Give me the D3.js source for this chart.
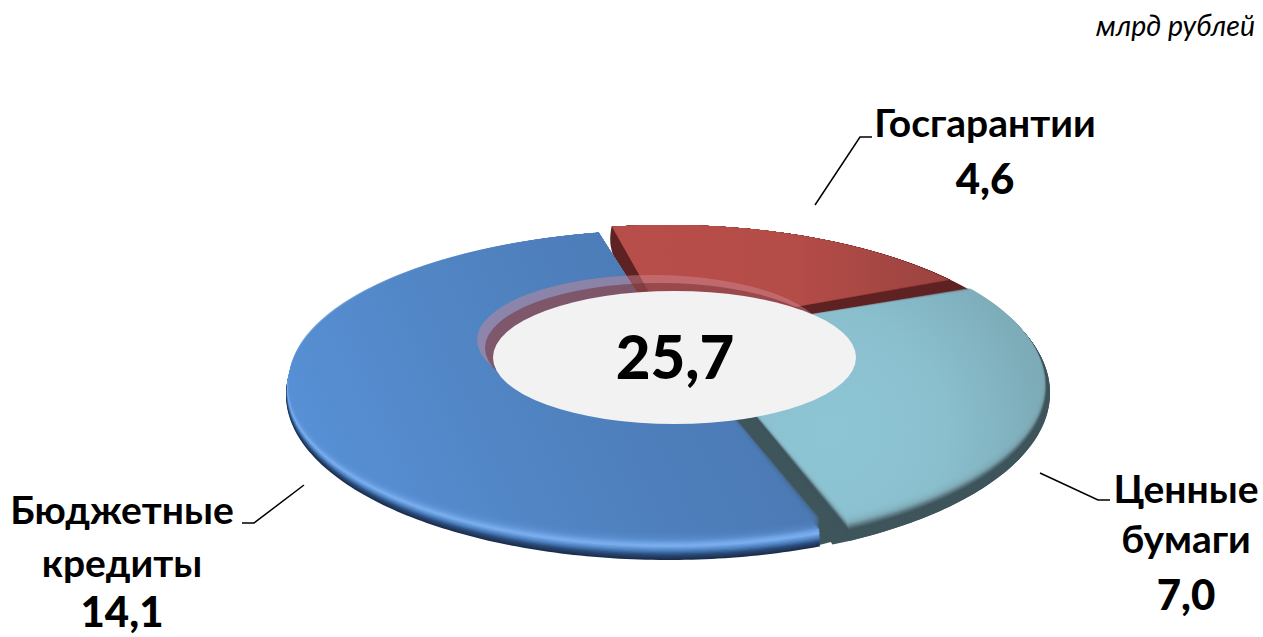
<!DOCTYPE html>
<html lang="ru">
<head>
<meta charset="utf-8">
<title>Госдолг</title>
<script src="https://cdn.jsdelivr.net/npm/d3@7"></script>
<style>
  html, body { margin: 0; padding: 0; background: #fff; }
  svg { display: block; }
  text { font-family: Lato, "Open Sans", "Noto Sans", sans-serif; fill: #000; }
</style>
</head>
<body>
<svg id="chart" width="1263" height="637"></svg>
<script>
// data
const categories = ['Госгарантии', 'Ценные бумаги', 'Бюджетные кредиты'];
const values = [4.6, 7.0, 14.1];
const unitLabel = 'млрд рублей';

const svg = d3.select('#chart');
const rad = d => d * Math.PI / 180;
const fmt = v => v.toFixed(1).replace('.', ',');

const outer = { cx: 668, cy: 393, rx: 382, ry: 168 };
const hole = { cx: 674.5, cy: 357.5, rx: 181.5, ry: 66.5 };
const rimLayers = 24;

// look of each slice, same order as categories
const looks = [
  { rim: ['#5e2222', '#7a302d', '#a3443f'], wall: '#5e2222', apex: [670, 329], trim: [0.5, 7.5], rise: 5, pull: 10,
    ellipse: outer,
    face: { type: 'linear', x1: 620, y1: 0, x2: 980, y2: 0, stops: ['#b94f4b', '#b54d49', '#96423f'] } },
  { rim: ['#3f555c', '#3f555c', '#3f555c', '#3f555c', '#5d7d87', '#7fa9b4'], wall: '#3f555c', apex: [688, 334], trim: [-1.5, 2], rise: 15, pull: 9,
    ellipse: outer,
    face: { type: 'radial', cx: 830, cy: 430, r: 235, stops: ['#8fc7d6', '#8bc0cf', '#7ba8b4'] } },
  { rim: ['#1b2e4d', '#2a4a78', '#4f85c6', '#7fb0ee', '#6299de'], wall: '#1b2e4d', apex: [658, 326], trim: [3, 1.5], rise: 15, pull: 3,
    ellipse: { cx: 668, cy: 395, rx: 382, ry: 165 },
    face: { type: 'linear', x1: 300, y1: 470, x2: 720, y2: 280, stops: ['#5790d6', '#4f82c0', '#4a78b3'] } }
];

const pie = d3.pie().sort(null).startAngle(rad(-9)).endAngle(rad(351));
const slices = pie(values);

const line = d3.line();
const onEllipse = (e, a) => [e.cx + e.rx * Math.sin(a), e.cy - e.ry * Math.cos(a)];

// flat wedge from the apex out to the ellipse
function wedge(a0, a1, e, apex) {
  const steps = Math.ceil((a1 - a0) / rad(1));
  const pts = d3.range(steps + 1).map(i => onEllipse(e, a0 + (a1 - a0) * i / steps));
  return line([apex, ...pts]) + 'Z';
}

const defs = svg.append('defs');
looks.forEach((l, i) => {
  const f = l.face;
  const g = f.type === 'linear'
    ? defs.append('linearGradient').attr('x1', f.x1).attr('x2', f.x2).attr('y1', f.y1).attr('y2', f.y2)
    : defs.append('radialGradient').attr('cx', f.cx).attr('cy', f.cy).attr('r', f.r);
  g.attr('id', 'face' + i).attr('gradientUnits', 'userSpaceOnUse');
  g.selectAll('stop').data(f.stops).join('stop')
    .attr('offset', (d, k) => k / (f.stops.length - 1))
    .attr('stop-color', d => d);
});

const pieG = svg.append('g');

function drawSlice(i) {
  const s = slices[i];
  const l = looks[i];
  const a0 = s.startAngle + rad(l.trim[0]);
  const a1 = s.endAngle - rad(l.trim[1]);
  const g = pieG.append('g');

  // side wall showing at the cut
  if (i === 0) {
    g.append('path').attr('d', wedge(a0, s.endAngle, l.ellipse, [670, 336])).attr('fill', l.wall);
    const p = onEllipse(l.ellipse, a0);
    const q = [p[0] + (l.apex[0] - p[0]) * 0.7, p[1] + (l.apex[1] - p[1]) * 0.7];
    g.append('path')
      .attr('d', d3.line().curve(d3.curveCatmullRom)([p, [p[0] - 1, p[1] + 18], [q[0] - 24, q[1]]]) + `L${q}Z`)
      .attr('fill', l.wall);
  }
  if (i === 1) {
    g.append('path').attr('d', wedge(a0, a1, l.ellipse, l.apex)).attr('fill', l.wall).attr('transform', 'translate(-30,4)');
    g.append('path').attr('d', wedge(a0, a1 + rad(3), l.ellipse, l.apex)).attr('fill', l.wall);
  }

  // bevel: stack of ellipses pulled up and in, dark at the rim
  const ramp = d3.piecewise(d3.interpolateRgb, l.rim);
  const solidPart = 0.6;
  d3.range(rimLayers).forEach(k => {
    const t = k / (rimLayers - 1);
    const e = {
      cx: l.ellipse.cx,
      cy: l.ellipse.cy - l.rise * t,
      rx: l.ellipse.rx - l.pull * t,
      ry: l.ellipse.ry - l.rise * t
    };
    const p = g.append('path').attr('d', wedge(a0, a1, e, l.apex));
    if (t <= solidPart) p.attr('fill', ramp(t / solidPart));
    else p.attr('fill', `url(#face${i})`).attr('fill-opacity', 0.3);
  });
}

[0, 1, 2].forEach(drawSlice);

// translucent crescents behind the hole
pieG.append('ellipse').attr('cx', 652).attr('cy', 340).attr('rx', 175).attr('ry', 65)
  .attr('fill', 'rgb(207,135,148)').attr('fill-opacity', 0.48);
pieG.append('ellipse').attr('cx', 660).attr('cy', 348).attr('rx', 175).attr('ry', 65)
  .attr('fill', 'rgb(112,42,44)').attr('fill-opacity', 0.5);
pieG.append('ellipse').attr('cx', hole.cx).attr('cy', hole.cy).attr('rx', hole.rx).attr('ry', hole.ry)
  .attr('fill', '#f2f2f2');

// total in the middle
svg.append('text').attr('x', 675).attr('y', 379).attr('text-anchor', 'middle')
  .attr('font-size', 60).attr('font-weight', 900).text(fmt(d3.sum(values)));

// unit note
svg.append('text').attr('x', 1255).attr('y', 36).attr('text-anchor', 'end')
  .attr('font-size', 28.5).attr('font-style', 'italic').text(unitLabel);

// labels and leaders
const labelSpots = [
  { x: 985, ys: [137, 194], lines: ['Госгарантии'], leader: [[815, 205], [860, 137], [872, 137]] },
  { x: 1186, ys: [503, 553, 610], lines: ['Ценные', 'бумаги'], leader: [[1040, 473], [1098, 500], [1110, 500]] },
  { x: 122, ys: [524, 577, 627], lines: ['Бюджетные', 'кредиты'], leader: [[304, 485], [254, 523], [242, 523]] }
];

labelSpots.forEach((spot, i) => {
  svg.append('path').attr('d', line(spot.leader)).attr('fill', 'none')
    .attr('stroke', '#000').attr('stroke-width', 1.5);
  spot.lines.forEach((t, k) => {
    svg.append('text').attr('x', spot.x).attr('y', spot.ys[k]).attr('text-anchor', 'middle')
      .attr('font-size', 39).attr('font-weight', 700).text(t);
  });
  svg.append('text').attr('x', spot.x).attr('y', spot.ys[spot.lines.length]).attr('text-anchor', 'middle')
    .attr('font-size', 42).attr('font-weight', 900).text(fmt(values[i]));
});
</script>
</body>
</html>
